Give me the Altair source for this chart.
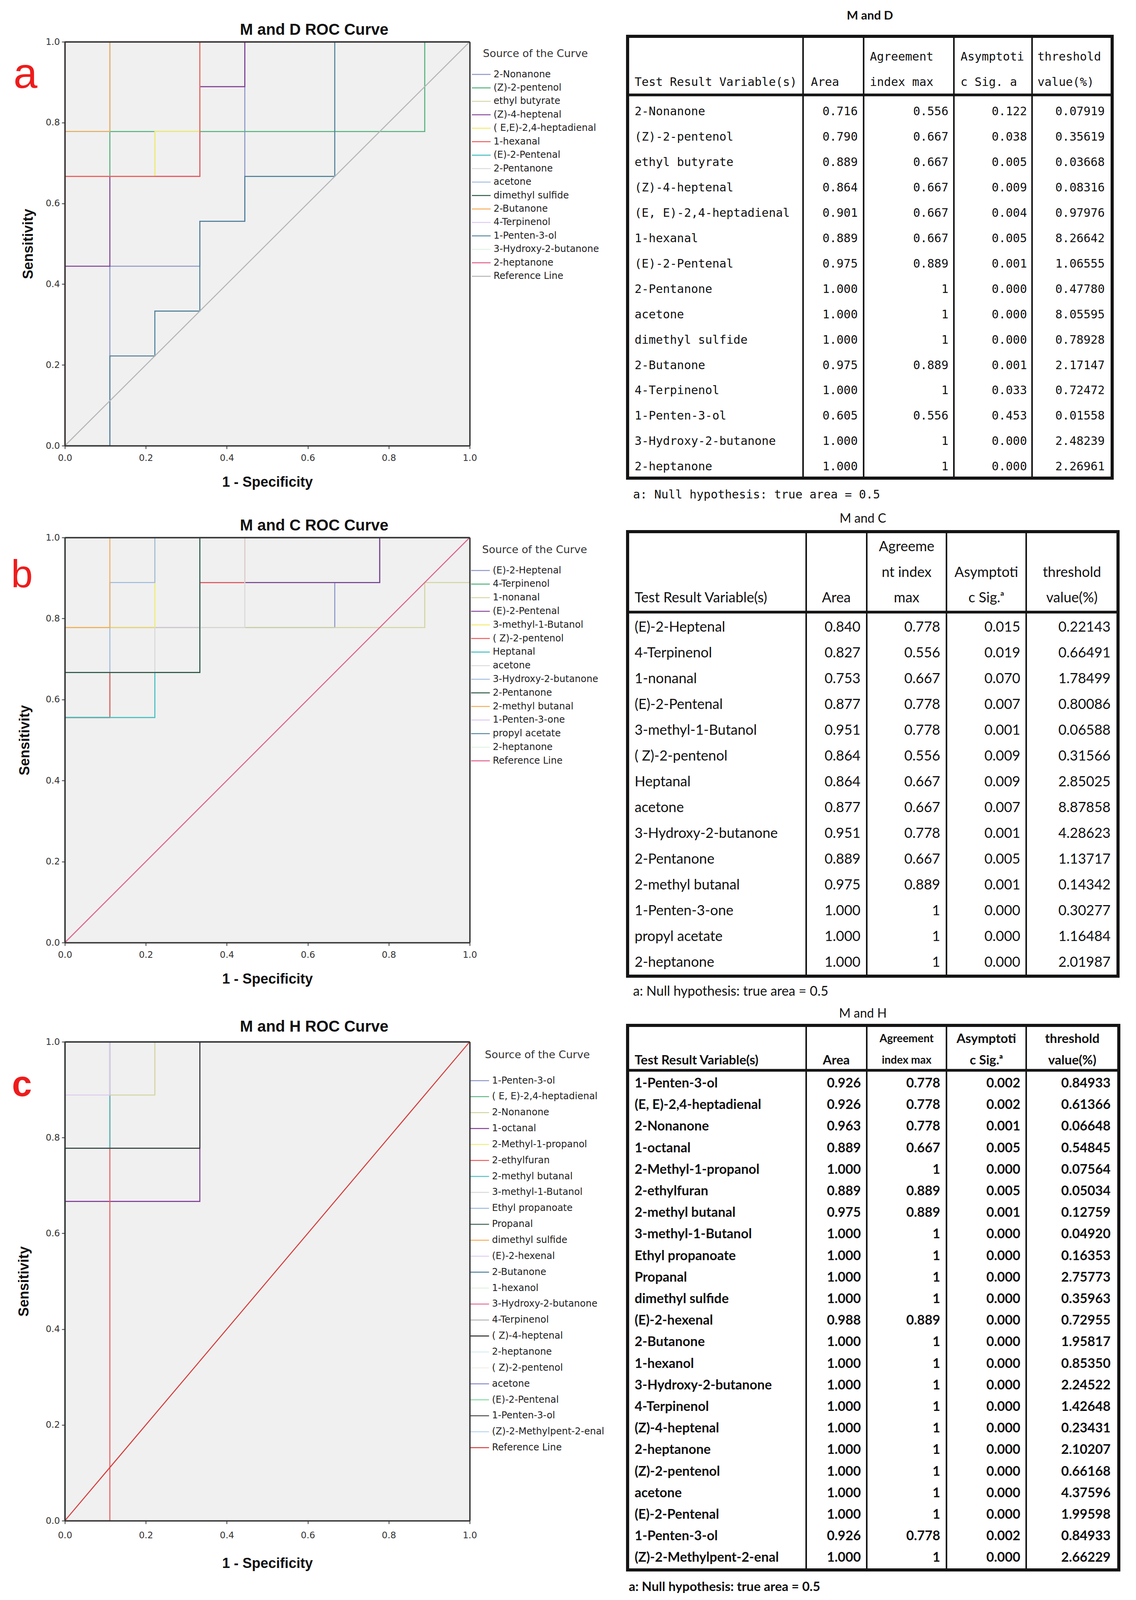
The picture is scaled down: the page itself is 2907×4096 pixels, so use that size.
import altair as alt
import pandas as pd

# ------------------------------------------------------------------ colours
SPSS = ["#8b95c9", "#4fb07a", "#d3d3a0", "#803b95", "#f2ec70", "#ee5a5a",
        "#40bdbf", "#d9d9d9", "#9db9de", "#2c5a45", "#f4ad5a", "#dccbef",
        "#4c7f99", "#dff2e0", "#e0608a", "#b5b5b5", "#111111", "#d6ecf3",
        "#f1efe6", "#7b7fc2", "#86d9a6", "#3a3a3a", "#bcd4ee", "#d63a3a"]
RED = "#ee1c1c"

# ------------------------------------------------------------------ ROC data
# vertices of the step curves, in ninths of the axis (9 samples per group)
FULL = [(0, 0), (0, 9), (9, 9)]
DIAG = [(0, 0), (9, 9)]

a_names = ["2-Nonanone", "(Z)-2-pentenol", "ethyl butyrate", "(Z)-4-heptenal",
           "( E,E)-2,4-heptadienal", "1-hexanal", "(E)-2-Pentenal", "2-Pentanone",
           "acetone", "dimethyl sulfide", "2-Butanone", "4-Terpinenol",
           "1-Penten-3-ol", "3-Hydroxy-2-butanone", "2-heptanone", "Reference Line"]
a_paths = [
    [(0, 0), (1, 0), (1, 4), (3, 4), (3, 5), (4, 5), (4, 9), (9, 9)],
    [(0, 0), (0, 6), (1, 6), (1, 7), (8, 7), (8, 9), (9, 9)],
    [(0, 0), (0, 6), (2, 6), (2, 7), (3, 7), (3, 9), (9, 9)],
    [(0, 0), (0, 4), (1, 4), (1, 6), (3, 6), (3, 8), (4, 8), (4, 9), (9, 9)],
    [(0, 0), (0, 6), (2, 6), (2, 7), (3, 7), (3, 9), (9, 9)],
    [(0, 0), (0, 6), (3, 6), (3, 9), (9, 9)],
    [(0, 0), (0, 7), (1, 7), (1, 9), (9, 9)],
    FULL, FULL, FULL,
    [(0, 0), (0, 7), (1, 7), (1, 9), (9, 9)],
    FULL,
    [(0, 0), (1, 0), (1, 2), (2, 2), (2, 3), (3, 3), (3, 5), (4, 5), (4, 6),
     (6, 6), (6, 9), (9, 9)],
    FULL, FULL, DIAG]

b_names = ["(E)-2-Heptenal", "4-Terpinenol", "1-nonanal", "(E)-2-Pentenal",
           "3-methyl-1-Butanol", "( Z)-2-pentenol", "Heptanal", "acetone",
           "3-Hydroxy-2-butanone", "2-Pentanone", "2-methyl butanal",
           "1-Penten-3-one", "propyl acetate", "2-heptanone", "Reference Line"]
b_paths = [
    [(0, 0), (0, 7), (6, 7), (6, 8), (7, 8), (7, 9), (9, 9)],
    [(0, 0), (0, 5), (1, 5), (1, 6), (3, 6), (3, 8), (7, 8), (7, 9), (9, 9)],
    [(0, 0), (0, 7), (8, 7), (8, 8), (9, 8), (9, 9)],
    [(0, 0), (0, 7), (3, 7), (3, 8), (7, 8), (7, 9), (9, 9)],
    [(0, 0), (0, 7), (2, 7), (2, 9), (9, 9)],
    [(0, 0), (0, 5), (1, 5), (1, 6), (3, 6), (3, 8), (4, 8), (4, 9), (9, 9)],
    [(0, 0), (0, 5), (2, 5), (2, 6), (3, 6), (3, 9), (9, 9)],
    [(0, 0), (0, 6), (2, 6), (2, 7), (4, 7), (4, 9), (9, 9)],
    [(0, 0), (0, 6), (1, 6), (1, 8), (2, 8), (2, 9), (9, 9)],
    [(0, 0), (0, 6), (3, 6), (3, 9), (9, 9)],
    [(0, 0), (0, 7), (1, 7), (1, 9), (9, 9)],
    FULL, FULL, FULL, DIAG]

c_names = ["1-Penten-3-ol", "( E, E)-2,4-heptadienal", "2-Nonanone", "1-octanal",
           "2-Methyl-1-propanol", "2-ethylfuran", "2-methyl butanal",
           "3-methyl-1-Butanol", "Ethyl propanoate", "Propanal", "dimethyl sulfide",
           "(E)-2-hexenal", "2-Butanone", "1-hexanol", "3-Hydroxy-2-butanone",
           "4-Terpinenol", "( Z)-4-heptenal", "2-heptanone", "( Z)-2-pentenol",
           "acetone", "(E)-2-Pentenal", "1-Penten-3-ol\u200b",
           "(Z)-2-Methylpent-2-enal", "Reference Line"]
c_paths = [
    [(0, 0), (0, 7), (3, 7), (3, 9), (9, 9)],
    [(0, 0), (0, 7), (3, 7), (3, 9), (9, 9)],
    [(0, 0), (0, 7), (1, 7), (1, 8), (2, 8), (2, 9), (9, 9)],
    [(0, 0), (0, 6), (3, 6), (3, 9), (9, 9)],
    FULL,
    [(0, 0), (1, 0), (1, 9), (9, 9)],
    [(0, 0), (0, 7), (1, 7), (1, 9), (9, 9)],
    FULL, FULL, FULL, FULL,
    [(0, 0), (0, 8), (1, 8), (1, 9), (9, 9)],
    FULL, FULL, FULL, FULL, FULL, FULL, FULL, FULL, FULL,
    [(0, 0), (0, 7), (3, 7), (3, 9), (9, 9)],
    FULL, DIAG]

# ------------------------------------------------------------------ table data
a_vars = ["2-Nonanone", "(Z)-2-pentenol", "ethyl butyrate", "(Z)-4-heptenal",
          "(E, E)-2,4-heptadienal", "1-hexanal", "(E)-2-Pentenal", "2-Pentanone",
          "acetone", "dimethyl sulfide", "2-Butanone", "4-Terpinenol",
          "1-Penten-3-ol", "3-Hydroxy-2-butanone", "2-heptanone"]
a_area = ["0.716", "0.790", "0.889", "0.864", "0.901", "0.889", "0.975", "1.000",
          "1.000", "1.000", "0.975", "1.000", "0.605", "1.000", "1.000"]
a_agree = ["0.556", "0.667", "0.667", "0.667", "0.667", "0.667", "0.889", "1", "1",
           "1", "0.889", "1", "0.556", "1", "1"]
a_sig = ["0.122", "0.038", "0.005", "0.009", "0.004", "0.005", "0.001", "0.000",
         "0.000", "0.000", "0.001", "0.033", "0.453", "0.000", "0.000"]
a_thr = ["0.07919", "0.35619", "0.03668", "0.08316", "0.97976", "8.26642", "1.06555",
         "0.47780", "8.05595", "0.78928", "2.17147", "0.72472", "0.01558", "2.48239",
         "2.26961"]
a_head = [["Test Result Variable(s)"], ["Area"], ["Agreement", "index max"],
          ["Asymptoti", "c Sig. a"], ["threshold", "value(%)"]]

b_vars = ["(E)-2-Heptenal", "4-Terpinenol", "1-nonanal", "(E)-2-Pentenal",
          "3-methyl-1-Butanol", "( Z)-2-pentenol", "Heptanal", "acetone",
          "3-Hydroxy-2-butanone", "2-Pentanone", "2-methyl butanal", "1-Penten-3-one",
          "propyl acetate", "2-heptanone"]
b_area = ["0.840", "0.827", "0.753", "0.877", "0.951", "0.864", "0.864", "0.877",
          "0.951", "0.889", "0.975", "1.000", "1.000", "1.000"]
b_agree = ["0.778", "0.556", "0.667", "0.778", "0.778", "0.556", "0.667", "0.667",
           "0.778", "0.667", "0.889", "1", "1", "1"]
b_sig = ["0.015", "0.019", "0.070", "0.007", "0.001", "0.009", "0.009", "0.007",
         "0.001", "0.005", "0.001", "0.000", "0.000", "0.000"]
b_thr = ["0.22143", "0.66491", "1.78499", "0.80086", "0.06588", "0.31566", "2.85025",
         "8.87858", "4.28623", "1.13717", "0.14342", "0.30277", "1.16484", "2.01987"]
b_head = [["Test Result Variable(s)"], ["Area"], ["Agreeme", "nt index", "max"],
          ["Asymptoti", "c Sig.\u1d43"], ["threshold", "value(%)"]]

c_vars = ["1-Penten-3-ol", "(E, E)-2,4-heptadienal", "2-Nonanone", "1-octanal",
          "2-Methyl-1-propanol", "2-ethylfuran", "2-methyl butanal",
          "3-methyl-1-Butanol", "Ethyl propanoate", "Propanal", "dimethyl sulfide",
          "(E)-2-hexenal", "2-Butanone", "1-hexanol", "3-Hydroxy-2-butanone",
          "4-Terpinenol", "(Z)-4-heptenal", "2-heptanone", "(Z)-2-pentenol",
          "acetone", "(E)-2-Pentenal", "1-Penten-3-ol", "(Z)-2-Methylpent-2-enal"]
c_area = ["0.926", "0.926", "0.963", "0.889", "1.000", "0.889", "0.975", "1.000",
          "1.000", "1.000", "1.000", "0.988", "1.000", "1.000", "1.000", "1.000",
          "1.000", "1.000", "1.000", "1.000", "1.000", "0.926", "1.000"]
c_agree = ["0.778", "0.778", "0.778", "0.667", "1", "0.889", "0.889", "1", "1", "1",
           "1", "0.889", "1", "1", "1", "1", "1", "1", "1", "1", "1", "0.778", "1"]
c_sig = ["0.002", "0.002", "0.001", "0.005", "0.000", "0.005", "0.001", "0.000",
         "0.000", "0.000", "0.000", "0.000", "0.000", "0.000", "0.000", "0.000",
         "0.000", "0.000", "0.000", "0.000", "0.000", "0.002", "0.000"]
c_thr = ["0.84933", "0.61366", "0.06648", "0.54845", "0.07564", "0.05034", "0.12759",
         "0.04920", "0.16353", "2.75773", "0.35963", "0.72955", "1.95817", "0.85350",
         "2.24522", "1.42648", "0.23431", "2.10207", "0.66168", "4.37596", "1.99598",
         "0.84933", "2.66229"]
c_head = [["Test Result Variable(s)"], ["Area"], ["Agreement", "index max"],
          ["Asymptoti", "c Sig.\u1d43"], ["threshold", "value(%)"]]

FOOT = "a: Null hypothesis: true area = 0.5"

# ------------------------------------------------------------------ layout
PW = 1036                     # ROC plot width
ROW_TOP = [106, 1375, 2666]   # absolute page y of each plot area
TX0, TX1 = 1605, 2862         # table frame, absolute page x


def curve_frame(names, paths):
    rows = []
    for name, path in zip(names, paths):
        for i, (x, y) in enumerate(path):
            rows.append({"name": name, "seq": i, "fpr": x / 9.0, "tpr": y / 9.0})
    return pd.DataFrame(rows)


def roc(names, colors, paths, title, letter, cfg):
    df = curve_frame(names, paths)
    ref = df[df["name"] == "Reference Line"]
    xs = alt.Scale(domain=[0, 1], nice=False, zero=False)
    ys = alt.Scale(domain=[0, 1], nice=False, zero=False)
    common = dict(values=[0, 0.2, 0.4, 0.6, 0.8, 1.0], format=".1f",
                  labelFont="DejaVu Sans", labelFontSize=23, labelColor="#333333",
                  tickSize=8, tickWidth=2, tickColor="#333333",
                  domainColor="#333333", domainWidth=3.5, grid=False, zindex=1,
                  titleFont="Liberation Sans", titleFontSize=36,
                  titleFontWeight="bold", titleColor="#111111")
    xaxis = alt.Axis(title="1 - Specificity", orient="bottom", labelFlush=False,
                     labelPadding=cfg["xlp"], titlePadding=cfg["xtp"], **common)
    yaxis = alt.Axis(title="Sensitivity", orient="left", labelPadding=5,
                     titlePadding=cfg["ytp"], **common)
    edge = dict(domain=True, ticks=False, labels=False, title="", grid=False,
                domainColor="#333333", domainWidth=3.5, zindex=1)
    legend = alt.Legend(title="Source of the Curve", orient="none",
                        legendX=cfg["lgx"], legendY=cfg["lgy"], titleAnchor="middle",
                        titleFont="DejaVu Sans", titleFontSize=27, titleLimit=600,
                        titleFontWeight="normal", titleColor="#333333",
                        titlePadding=cfg["lgtp"], labelFont="DejaVu Sans",
                        labelFontSize=24, labelColor="#222222", labelLimit=500,
                        labelOffset=30, symbolType="M-1,0H3", symbolSize=576,
                        symbolStrokeWidth=2.4, symbolOffset=-1,
                        rowPadding=cfg["lgrp"], padding=0)
    lines = alt.Chart(df).mark_line(strokeWidth=2.6).encode(
        x=alt.X("fpr:Q", scale=xs, axis=xaxis),
        y=alt.Y("tpr:Q", scale=ys, axis=yaxis),
        color=alt.Color("name:N", scale=alt.Scale(domain=names, range=colors),
                        legend=legend),
        order=alt.Order("seq:Q"))
    edges = alt.Chart(ref).mark_line(opacity=0).encode(
        x=alt.X("fpr:Q", scale=xs, axis=alt.Axis(orient="top", **edge)),
        y=alt.Y("tpr:Q", scale=ys, axis=alt.Axis(orient="right", **edge)),
        order=alt.Order("seq:Q"))
    lab = alt.Chart(pd.DataFrame({"t": [letter]})).mark_text(
        font="Liberation Sans", fontSize=cfg["lfs"], fontWeight=cfg["lfw"],
        color=RED, align="center", baseline="alphabetic").encode(
        x=alt.value(cfg["lx"]), y=alt.value(cfg["ly"]), text="t:N")
    ttl = alt.Chart(pd.DataFrame({"t": [title]})).mark_text(
        font="Liberation Sans", fontSize=40, fontWeight="bold", color="#111111",
        align="center", baseline="middle").encode(
        x=alt.value(638), y=alt.value(cfg["ty"]), text="t:N")
    return alt.layer(lines, edges, lab, ttl).resolve_axis(
        x="independent", y="independent").properties(
        width=PW, height=cfg["h"],
        view=alt.ViewBackground(fill="#f0f0f0", strokeWidth=0))


def table(cols, head, lay, styles, anchor=False):
    y0, h = lay["top"], lay["h"]
    xs = alt.Scale(domain=[TX0, TX1], range=[0, TX1 - TX0], nice=False, zero=False)
    ys = alt.Scale(domain=[y0, y0 + h], range=[0, h], nice=False, zero=False)
    bx0, bx1, by0, byh, by1 = lay["box"]
    rules = [(bx0, bx1, by0, by0, 8), (bx0, bx1, by1, by1, 8),
             (bx0, bx0, by0, by1, 8), (bx1, bx1, by0, by1, 8),
             (bx0, bx1, byh, byh, 7)]
    for cx in lay["cols"]:
        rules.append((cx, cx, by0, by1, 4))
    rdf = pd.DataFrame(rules, columns=["x", "x2", "y", "y2", "w"])

    texts = []
    texts.append((lay["title"][0], lay["title"][1], lay["title"][2], "title"))
    texts.append((FOOT, lay["foot"][0], lay["foot"][1], "foot"))
    lines_y = lay["head_y"]
    for j, parts in enumerate(head):
        ys_ = lines_y[len(lines_y) - len(parts):]
        for k, txt in enumerate(parts):
            texts.append((txt, lay["head_x"][j], ys_[k], lay["head_s"][j]))
    names, *vals = cols
    for i in range(len(names)):
        yy = lay["row0"] + i * lay["dy"]
        texts.append((names[i], lay["left"], yy, "l"))
        for j, v in enumerate(vals):
            texts.append((v[i], lay["right"][j], yy, "r"))
    tdf = pd.DataFrame(texts, columns=["t", "x", "y", "s"])

    layers = [alt.Chart(rdf).mark_rule(color="#141414", strokeCap="square").encode(
        x=alt.X("x:Q", scale=xs, axis=None), x2="x2:Q",
        y=alt.Y("y:Q", scale=ys, axis=None), y2="y2:Q",
        size=alt.Size("w:Q", scale=None))]
    for st, kw in styles.items():
        sub = tdf[tdf["s"] == st]
        if len(sub) == 0:
            continue
        layers.append(alt.Chart(sub).mark_text(color="#111111", baseline="middle",
                                               **kw).encode(
            x=alt.X("x:Q", scale=xs, axis=None),
            y=alt.Y("y:Q", scale=ys, axis=None), text="t:N"))
    if anchor:
        layers.append(alt.Chart(pd.DataFrame({"x": [8], "y": [8]})).mark_point(
            opacity=0, size=1).encode(
            x=alt.X("x:Q", scale=xs, axis=None), y=alt.Y("y:Q", scale=ys, axis=None)))
    return alt.layer(*layers).properties(width=TX1 - TX0, height=h)


# ------------------------------------------------------------------ ROC panels
roc_a = roc(a_names, SPSS[:16], a_paths, "M and D ROC Curve", "a",
            dict(h=1034, xlp=12, xtp=33, ytp=25, lgx=1041, lgy=18, lgtp=25,
                 lgrp=8.45, lfs=110, lfw="normal", lx=-101, ly=118, ty=-30))
roc_b = roc(b_names, SPSS[:15], b_paths, "M and C ROC Curve", "b",
            dict(h=1037, xlp=12, xtp=33, ytp=34, lgx=1039, lgy=19, lgtp=25,
                 lgrp=8.8, lfs=100, lfw="normal", lx=-110, ly=128, ty=-30))
roc_c = roc(c_names, SPSS[:24], c_paths, "M and H ROC Curve", "c",
            dict(h=1226, xlp=18, xtp=43, ytp=36, lgx=1037, lgy=21, lgtp=38,
                 lgrp=14.85, lfs=92, lfw="bold", lx=-110, ly=139, ty=-38))

# ------------------------------------------------------------------ tables
MONO = "DejaVu Sans Mono"
sty_a = {"title": dict(font="Lato", fontSize=31, fontWeight="bold", align="center"),
         "hl": dict(font=MONO, fontSize=30, align="left"),
         "l": dict(font=MONO, fontSize=30, align="left"),
         "r": dict(font=MONO, fontSize=30, align="right"),
         "foot": dict(font=MONO, fontSize=30, align="left")}
sty_b = {"title": dict(font="Lato", fontSize=32, align="center"),
         "hl": dict(font="Lato", fontSize=36, align="left"),
         "hc": dict(font="Lato", fontSize=36, align="center"),
         "l": dict(font="Lato", fontSize=36, align="left"),
         "r": dict(font="Lato", fontSize=36, align="right"),
         "foot": dict(font="Lato", fontSize=34, align="left")}
sty_c = {"title": dict(font="Lato", fontSize=32, align="center"),
         "hl": dict(font="Lato", fontSize=33, fontWeight="bold", align="left"),
         "hc": dict(font="Lato", fontSize=33, fontWeight="bold", align="center"),
         "hs": dict(font="Lato", fontSize=28, fontWeight="bold", align="center"),
         "l": dict(font="Lato", fontSize=34, fontWeight="bold", align="left"),
         "r": dict(font="Lato", fontSize=34, fontWeight="bold", align="right"),
         "foot": dict(font="Lato", fontSize=33, fontWeight="bold", align="left")}

lay_a = dict(top=ROW_TOP[0], h=1034, box=(1605, 2845, 92, 242, 1223),
             cols=[2054, 2209, 2440, 2640], title=("M and D", 2225, 40),
             foot=(1619, 1266), head_y=[145, 210],
             head_x=[1623, 2074, 2225, 2457, 2654], head_s=["hl"] * 5,
             row0=285, dy=64.95, left=1623, right=[2194, 2426, 2627, 2826])
lay_b = dict(top=ROW_TOP[1], h=1056, box=(1605, 2860, 1360, 1566, 2498),
             cols=[2062, 2217, 2421, 2625], title=("M and C", 2207, 1327),
             foot=(1619, 2538), head_y=[1399, 1465, 1530],
             head_x=[1623, 2139, 2319, 2523, 2742], head_s=["hl"] + ["hc"] * 4,
             row0=1605, dy=66, left=1623, right=[2201, 2405, 2610, 2841])
lay_c = dict(top=ROW_TOP[2], h=1226, box=(1605, 2862, 2624, 2739, 4018),
             cols=[2062, 2217, 2421, 2625], title=("M and H", 2207, 2594),
             foot=(1608, 4062), head_y=[2659, 2714],
             head_x=[1623, 2139, 2319, 2523, 2743],
             head_s=["hl", "hc", "hs", "hc", "hc"],
             row0=2773, dy=55.2, left=1623, right=[2202, 2405, 2610, 2841])

tab_a = table([a_vars, a_area, a_agree, a_sig, a_thr], a_head, lay_a, sty_a, anchor=True)
tab_b = table([b_vars, b_area, b_agree, b_sig, b_thr], b_head, lay_b, sty_b)
tab_c = table([c_vars, c_area, c_agree, c_sig, c_thr], c_head, lay_c, sty_c)

GAP_X = TX0 - (165 + PW)
GAP_Y = ROW_TOP[1] - (ROW_TOP[0] + 1034)

chart = alt.concat(roc_a, tab_a, roc_b, tab_b, roc_c, tab_c, columns=2,
                   spacing={"row": GAP_Y, "column": GAP_X}, bounds="flush",
                   align="each").resolve_scale(color="independent").properties(
    padding=0).configure_view(strokeWidth=0)

chart.save("out.html", embed_options={"renderer": "svg", "actions": False})
